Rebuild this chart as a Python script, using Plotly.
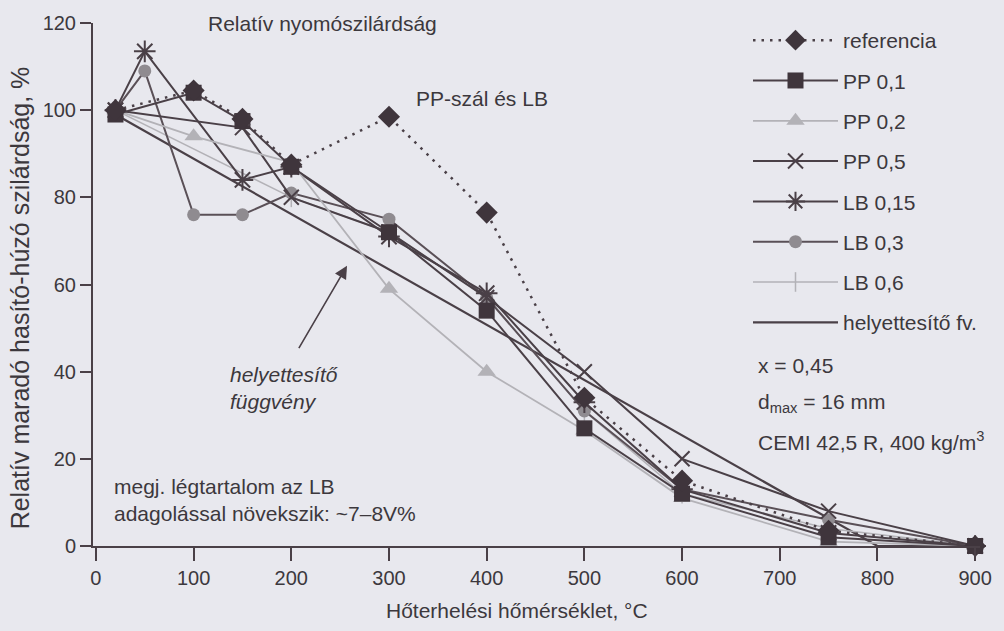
import plotly.graph_objects as go

# ---- data ----
ref_x = [20, 100, 150, 200, 300, 400, 500, 600, 750, 900]
ref_y = [100, 104.5, 98, 87.5, 98.5, 76.5, 34, 15, 3.5, 0]

pp01_x = [20, 100, 150, 200, 300, 400, 500, 600, 750, 900]
pp01_y = [99, 104, 97.5, 87, 72, 54, 27, 12, 2, 0]

pp02_x = [20, 100, 200, 300, 400, 500, 600, 750, 900]
pp02_y = [100, 94, 88, 59, 40, 26.5, 11, 1, 0]

pp05_x = [20, 150, 200, 300, 400, 500, 600, 750, 900]
pp05_y = [100, 96, 80, 72, 57, 40, 20, 8, 0]

lb015_x = [20, 50, 150, 200, 300, 400, 500, 600, 750, 900]
lb015_y = [100, 113.5, 84, 87, 71, 58, 33, 13, 3, 0]

lb03_x = [20, 50, 100, 150, 200, 300, 400, 500, 600, 750, 900]
lb03_y = [100, 109, 76, 76, 81, 75, 57, 31, 13, 6, 0]

lb06_x = [20, 200, 300, 400, 500, 600, 750, 900]
lb06_y = [100, 80, 72, 57, 31, 12, 4, 0]

fv_x = [20, 800, 900]
fv_y = [99, 0, 0]

x_ticks = [0, 100, 200, 300, 400, 500, 600, 700, 800, 900]
y_ticks = [0, 20, 40, 60, 80, 100, 120]

DARK = "#4a4047"
GRAY = "#8f8b90"
LIGHT = "#b3b2b7"
TXT = "#3c383d"
BG = "#e8e8ee"
FONT = "Liberation Sans, Arial, sans-serif"
FS = 21

fig = go.Figure()

def add(name, rank, x, y, color, width, symbol, msize, mcolor, dash="solid", mline=0, mlcolor=None):
    fig.add_trace(go.Scatter(
        x=x, y=y, name=name, mode="lines+markers", cliponaxis=False,
        line=dict(color=color, width=width, dash=dash),
        marker=dict(symbol=symbol, size=msize, color=mcolor,
                    line=dict(width=mline, color=mlcolor or mcolor)),
        legendgroup=name, legendrank=rank,
    ))

add("helyettesítő fv.", 8, fv_x, fv_y, DARK, 2.2, "circle", 1, "rgba(0,0,0,0)")
add("LB 0,6", 7, lb06_x, lb06_y, LIGHT, 1.5, "line-ns-open", 14, LIGHT, mline=1.5, mlcolor=LIGHT)
add("LB 0,3", 6, lb03_x, lb03_y, "#5a5057", 2, "circle", 13, GRAY)
add("LB 0,15", 5, lb015_x, lb015_y, DARK, 2, "asterisk-open", 18, DARK, mline=2, mlcolor=DARK)
add("PP 0,5", 4, pp05_x, pp05_y, DARK, 2, "x-thin-open", 15, DARK, mline=2, mlcolor=DARK)
add("PP 0,2", 3, pp02_x, pp02_y, LIGHT, 1.8, "triangle-up", 16, LIGHT)
add("PP 0,1", 2, pp01_x, pp01_y, DARK, 2, "square", 16, "#3f353c")
add("referencia", 1, ref_x, ref_y, DARK, 2.5, "diamond", 17, "#3f353c", dash="2.5px,6px")

fig.update_layout(
    width=1004, height=631,
    paper_bgcolor=BG, plot_bgcolor=BG,
    margin=dict(l=93, r=24, t=18, b=85),
    font=dict(family=FONT, size=FS, color=TXT),
    showlegend=True,
    legend=dict(x=(748 - 93) / 887.0, y=(546 - 15) / 528.0, xanchor="left", yanchor="top",
                bgcolor="rgba(0,0,0,0)", traceorder="grouped",
                tracegroupgap=10, itemwidth=85, maxheight=600,
                font=dict(size=FS, family=FONT, color=TXT)),
    xaxis=dict(range=[-3, 905], tickvals=x_ticks, ticks="outside", ticklen=13,
               tickwidth=1.5, tickcolor=DARK, showline=True, linecolor=DARK,
               linewidth=2, showgrid=False, zeroline=False,
               tickfont=dict(size=20, color=TXT)),
    yaxis=dict(range=[0, 120], tickvals=y_ticks, ticks="outside", ticklen=11,
               tickwidth=1.5, tickcolor=DARK, showline=True, linecolor=DARK,
               linewidth=2, showgrid=False, zeroline=False,
               tickfont=dict(size=20, color=TXT)),
)

def px_x(p):
    return (p - 93) / 887.0

def px_y(p):
    return (546 - p) / 528.0

anns = [
    dict(text="Relatív nyomószilárdság", x=px_x(206), y=px_y(18), xanchor="left"),
    dict(text="PP-szál és LB", x=px_x(414), y=px_y(94), xanchor="left"),
    dict(text="<i>helyettesítő</i><br><i>függvény</i>", x=px_x(228), y=px_y(386), xanchor="left", align="left"),
    dict(text="megj. légtartalom az LB<br>adagolással növekszik: ~7–8V%", x=px_x(112), y=px_y(500), xanchor="left", align="left"),
    dict(text="x = 0,45", x=px_x(756), y=px_y(364), xanchor="left"),
    dict(text="d<sub>max</sub> = 16 mm", x=px_x(756), y=px_y(402), xanchor="left"),
    dict(text="CEMI 42,5 R, 400 kg/m<sup>3</sup>", x=px_x(756), y=px_y(440), xanchor="left"),
    dict(text="Hőterhelési hőmérséklet, °C", x=px_x(517), y=px_y(611)),
    dict(text="Relatív maradó hasító-húzó szilárdság, %", x=px_x(20), y=px_y(296), textangle=-90, size=25),
]
for a in anns:
    a.setdefault("xanchor", "center")
    sz = a.pop("size", FS)
    fig.add_annotation(xref="paper", yref="paper", showarrow=False, yanchor="middle",
                       font=dict(size=sz, family=FONT, color=TXT), **a)

# arrow pointing to the substitute function
fig.add_annotation(xref="paper", yref="paper", x=px_x(347), y=px_y(263),
                   ax=298 - 347, ay=347 - 263, axref="pixel", ayref="pixel",
                   showarrow=True, arrowhead=2, arrowsize=1.6, arrowwidth=1.6,
                   arrowcolor=DARK, text="")

fig.write_html("out.html")
